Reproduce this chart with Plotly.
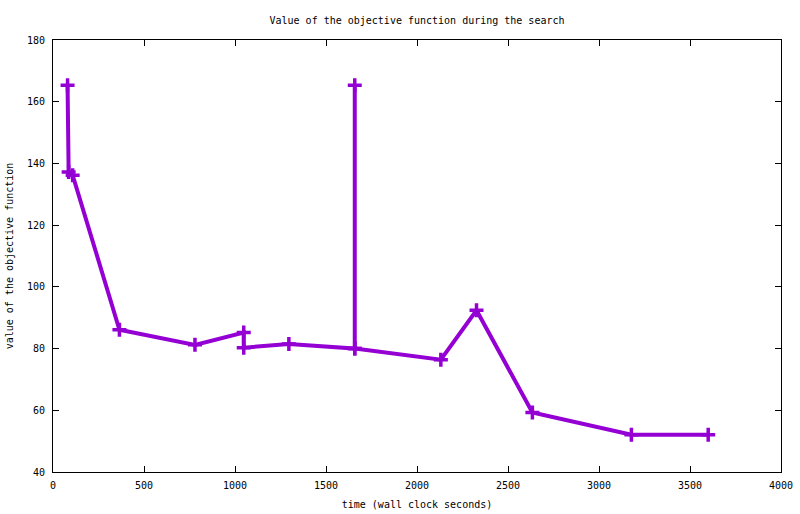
import plotly.graph_objects as go

# search trace: wall clock time (s) vs objective value
time_s = [80, 86, 108, 365, 780, 1048, 1048, 1296, 1658, 1658, 1658, 2131, 2327, 2634, 3178, 3600]
objective = [165.3, 137.2, 136.2, 86.1, 81.2, 85.2, 80.3, 81.5, 80.0, 165.3, 80.0, 76.4, 92.4, 59.3, 52.1, 52.1]

font = dict(family="DejaVu Sans Mono", size=10, color="black")

fig = go.Figure()
fig.add_trace(go.Scatter(
    x=time_s, y=objective,
    mode="lines+markers",
    line=dict(color="#9400D3", width=4),
    marker=dict(symbol="cross-thin", size=10, line=dict(color="#9400D3", width=3.5)),
    showlegend=False,
))

fig.update_layout(
    width=800, height=514,
    margin=dict(l=53, r=19, t=40, b=42),
    paper_bgcolor="white", plot_bgcolor="white",
    font=font,
    title=dict(text="Value of the objective function during the search",
               xref="paper", x=0.5, xanchor="center", y=0.961, yanchor="middle", font=font),
)
fig.update_xaxes(
    range=[0, 4000], dtick=500, showgrid=False, zeroline=False, automargin=False,
    showline=True, linecolor="black", linewidth=1, mirror="ticks",
    ticks="inside", ticklen=6, tickcolor="black", ticklabelstandoff=4,
    title=dict(text="time (wall clock seconds)", standoff=10, font=font),
)
fig.update_yaxes(
    range=[40, 180], dtick=20, showgrid=False, zeroline=False, automargin=False,
    showline=True, linecolor="black", linewidth=1, mirror="ticks",
    ticks="inside", ticklen=6, tickcolor="black", ticklabelstandoff=5,
    title=dict(text="value of the objective function", standoff=11, font=font),
)

# drop the default 8px body margin so the page matches the 800x514 window
page_fix = (
    "document.body.style.margin='0';"
    "document.body.style.overflow='hidden';"
    "document.documentElement.style.overflow='hidden';"
)
fig.write_html("out.html", config={"displayModeBar": False}, post_script=page_fix)
